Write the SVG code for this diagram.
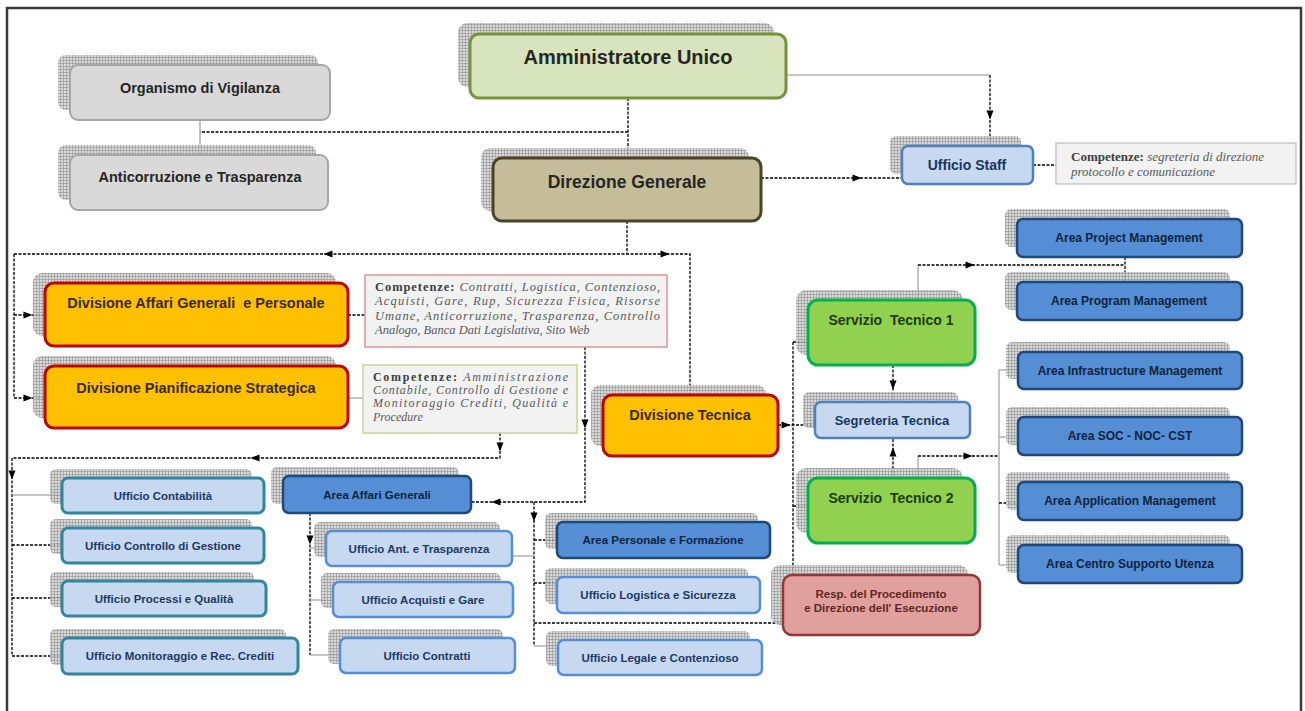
<svg xmlns="http://www.w3.org/2000/svg" width="1305" height="711" viewBox="0 0 1305 711">
<defs>
  <pattern id="grid" width="3" height="3" patternUnits="userSpaceOnUse">
    <rect width="3" height="3" fill="#d4d4d4"/>
    <path d="M0 0.5H3M0.5 0V3" stroke="#8f8f8f" stroke-width="0.8"/>
  </pattern>
  <path id="ar" d="M-4.5,-3.5 L4.5,0 L-4.5,3.5 Z" fill="#000"/>
  <style>
    .sh{fill:url(#grid);opacity:.85}
    .t{font-family:"Liberation Sans",Arial,sans-serif;font-weight:bold;text-anchor:middle}
    .s{font-family:"Liberation Serif","Times New Roman",serif;font-size:12.5px;fill:#595959}
    .s2{font-size:12px}
    .s3{font-size:13px}
    .b{font-weight:bold;font-style:normal;fill:#404040}
    .i{font-style:italic}
    .c{stroke:#000;stroke-width:1.3;stroke-dasharray:3 1.5;fill:none}
    .g{stroke:#8c8c8c;stroke-width:1;fill:none}
    .au{fill:#d7e4bd;stroke:#76923c;stroke-width:3}
    .gr{fill:#d9d9d9;stroke:#a6a6a6;stroke-width:2}
    .dg{fill:#c4bd97;stroke:#494429;stroke-width:3}
    .lb{fill:#c6d9f1;stroke:#4f81bd;stroke-width:2.5}
    .ab{fill:#558ed5;stroke:#1f497d;stroke-width:2.5}
    .st{fill:#92d050;stroke:#00b050;stroke-width:3}
    .dv{fill:#ffc000;stroke:#c00000;stroke-width:3}
    .rp{fill:#e0a09e;stroke:#953735;stroke-width:2.5}
    .tl{fill:#c6d9f1;stroke:#31859c;stroke-width:3}
    .ml{fill:#c6d9f1;stroke:#558ed5;stroke-width:2.5}
    .cp{fill:#f2f2f2;stroke:#bfbfbf;stroke-width:1.2}
    .cr{fill:#f2f2f2;stroke:#d99694;stroke-width:1.5}
    .cg{fill:#f2f2f2;stroke:#c3d69b;stroke-width:1.5}
  </style>
</defs>
<rect x="0" y="0" width="1305" height="711" fill="#fff"/>
<rect x="7" y="8" width="1294" height="720" fill="none" stroke="#3a3a3a" stroke-width="2.5"/>

<g id="connectors">
  <path class="c" d="M628,98V158"/>
  <path class="c" d="M628,132H200"/>
  <path class="g" d="M200,120V155"/>
  <path class="g" d="M786,75H990"/>
  <path class="c" d="M990,75V146"/>
  <path class="c" d="M761,178H902"/>
  <path class="c" d="M1033,165H1056"/>
  <path class="c" d="M627,221V254M14,254H690V395"/>
  <path class="c" d="M14,254V398M14,315H45M14,398H45"/>
  <path class="c" d="M348,315H365"/>
  <path class="g" d="M348,398H363"/>
  <path class="c" d="M585,347V502H471"/>
  <path class="c" d="M500,433V458H12V656"/>
  <path class="g" d="M12,495H62"/>
  <path class="c" d="M12,545H62M12,598H62M12,656H62"/>
  <path class="c" d="M310,513V655"/>
  <path class="g" d="M310,548H326M310,600H333M310,655H340"/>
  <path class="c" d="M534,502V646"/>
  <path class="c" d="M534,540H557M534,583H557M534,623H783"/>
  <path class="g" d="M534,646H558M512,556H534"/>
  <path class="c" d="M778,425H815"/>
  <path class="c" d="M793,342V575M793,342H808M793,506H808"/>
  <path class="c" d="M893,365V402"/>
  <path class="c" d="M893,478V438"/>
  <path class="g" d="M918,478V456"/>
  <path class="c" d="M918,456H999"/>
  <path class="g" d="M999,370V565M999,370H1018M999,437H1018M999,565H1018"/>
  <path class="c" d="M999,503H1018"/>
  <path class="g" d="M918,300V265"/>
  <path class="c" d="M918,265H1125"/>
  <path class="c" d="M1125,257V282"/>
  <use href="#ar" transform="translate(990,115) rotate(90)"/>
  <use href="#ar" transform="translate(857,178)"/>
  <use href="#ar" transform="translate(328,254) rotate(180)"/>
  <use href="#ar" transform="translate(665,254)"/>
  <use href="#ar" transform="translate(28,315)"/>
  <use href="#ar" transform="translate(28,398)"/>
  <use href="#ar" transform="translate(585,424) rotate(90)"/>
  <use href="#ar" transform="translate(496,502) rotate(180)"/>
  <use href="#ar" transform="translate(500,447) rotate(90)"/>
  <use href="#ar" transform="translate(255,458) rotate(180)"/>
  <use href="#ar" transform="translate(12,475) rotate(90)"/>
  <use href="#ar" transform="translate(310,540) rotate(90)"/>
  <use href="#ar" transform="translate(534,517) rotate(90)"/>
  <use href="#ar" transform="translate(786,425)"/>
  <use href="#ar" transform="translate(893,385) rotate(90)"/>
  <use href="#ar" transform="translate(893,452) rotate(-90)"/>
  <use href="#ar" transform="translate(968,456)"/>
  <use href="#ar" transform="translate(970,265)"/>
</g>

<g id="amministratore">
  <rect class="sh" x="458" y="23" width="316" height="64" rx="9"/>
  <rect class="au" x="470" y="34" width="316" height="64" rx="9"/>
  <text class="t" x="628" y="64" font-size="20" fill="#262626">Amministratore Unico</text>
</g>
<g id="organismo">
  <rect class="sh" x="58" y="55" width="260" height="55" rx="8"/>
  <rect class="gr" x="70" y="65" width="260" height="55" rx="8"/>
  <text class="t" x="200" y="93" font-size="14.5" fill="#262626">Organismo di Vigilanza</text>
</g>
<g id="anticorruzione">
  <rect class="sh" x="58" y="145" width="258" height="55" rx="8"/>
  <rect class="gr" x="70" y="155" width="258" height="55" rx="8"/>
  <text class="t" x="200" y="182" font-size="14.5" fill="#262626">Anticorruzione e Trasparenza</text>
</g>
<g id="direzione">
  <rect class="sh" x="481" y="148" width="268" height="63" rx="9"/>
  <rect class="dg" x="493" y="158" width="268" height="63" rx="9"/>
  <text class="t" x="627" y="188" font-size="17.5" fill="#262626">Direzione Generale</text>
</g>
<g id="staff">
  <rect class="sh" x="890" y="136" width="131" height="38" rx="6"/>
  <rect class="lb" x="902" y="146" width="131" height="38" rx="6"/>
  <text class="t" x="967" y="170" font-size="14" fill="#17375e">Ufficio Staff</text>
</g>
<g id="comp-staff">
  <rect class="cp" x="1056" y="143" width="240" height="41"/>
  <text class="s s3" x="1071" y="161"><tspan class="b">Competenze:</tspan><tspan class="i"> segreteria di direzione</tspan></text>
  <text class="s s3" x="1071" y="176"><tspan class="i">protocollo e comunicazione</tspan></text>
</g>

<g id="area-project">
  <rect class="sh" x="1005" y="209" width="225" height="38" rx="6"/>
  <rect class="ab" x="1017" y="219" width="225" height="38" rx="6"/>
  <text class="t" x="1129" y="242" font-size="12" fill="#0f243e">Area Project Management</text>
</g>
<g id="area-program">
  <rect class="sh" x="1005" y="272" width="225" height="38" rx="6"/>
  <rect class="ab" x="1017" y="282" width="225" height="38" rx="6"/>
  <text class="t" x="1129" y="305" font-size="12" fill="#0f243e">Area Program Management</text>
</g>
<g id="area-infra">
  <rect class="sh" x="1006" y="342" width="224" height="37" rx="6"/>
  <rect class="ab" x="1018" y="352" width="224" height="37" rx="6"/>
  <text class="t" x="1130" y="375" font-size="12" fill="#0f243e">Area Infrastructure Management</text>
</g>
<g id="area-soc">
  <rect class="sh" x="1006" y="407" width="224" height="38" rx="6"/>
  <rect class="ab" x="1018" y="417" width="224" height="38" rx="6"/>
  <text class="t" x="1130" y="440" font-size="12" fill="#0f243e">Area SOC - NOC- CST</text>
</g>
<g id="area-application">
  <rect class="sh" x="1006" y="472" width="224" height="38" rx="6"/>
  <rect class="ab" x="1018" y="482" width="224" height="38" rx="6"/>
  <text class="t" x="1130" y="505" font-size="12" fill="#0f243e">Area Application Management</text>
</g>
<g id="area-centro">
  <rect class="sh" x="1006" y="535" width="224" height="38" rx="6"/>
  <rect class="ab" x="1018" y="545" width="224" height="38" rx="6"/>
  <text class="t" x="1130" y="568" font-size="12" fill="#0f243e">Area Centro Supporto Utenza</text>
</g>

<g id="servizio1">
  <rect class="sh" x="796" y="290" width="167" height="65" rx="10"/>
  <rect class="st" x="808" y="300" width="167" height="65" rx="10"/>
  <text class="t" x="891" y="325" font-size="14" fill="#1d3b0b">Servizio&#160; Tecnico 1</text>
</g>
<g id="segreteria">
  <rect class="sh" x="803" y="392" width="155" height="36" rx="6"/>
  <rect class="lb" x="815" y="402" width="155" height="36" rx="6"/>
  <text class="t" x="892" y="425" font-size="13" fill="#17375e">Segreteria Tecnica</text>
</g>
<g id="servizio2">
  <rect class="sh" x="796" y="468" width="167" height="65" rx="10"/>
  <rect class="st" x="808" y="478" width="167" height="65" rx="10"/>
  <text class="t" x="891" y="503" font-size="14" fill="#1d3b0b">Servizio&#160; Tecnico 2</text>
</g>
<g id="resp">
  <rect class="sh" x="771" y="565" width="197" height="60" rx="9"/>
  <rect class="rp" x="783" y="575" width="197" height="60" rx="9"/>
  <text class="t" x="881" y="598" font-size="11.5" fill="#632523">Resp. del Procedimento</text>
  <text class="t" x="881" y="612" font-size="11.5" fill="#632523">e Direzione dell' Esecuzione</text>
</g>
<g id="div-tecnica">
  <rect class="sh" x="591" y="385" width="175" height="61" rx="9"/>
  <rect class="dv" x="603" y="395" width="175" height="61" rx="9"/>
  <text class="t" x="690" y="420" font-size="14.5" fill="#3b2b00">Divisione Tecnica</text>
</g>

<g id="div-affari">
  <rect class="sh" x="33" y="273" width="303" height="63" rx="9"/>
  <rect class="dv" x="45" y="283" width="303" height="63" rx="9"/>
  <text class="t" x="196" y="308" font-size="14.5" fill="#3b2b00">Divisione Affari Generali&#160; e Personale</text>
</g>
<g id="comp-affari">
  <rect class="cr" x="365" y="275" width="302" height="72"/>
  <text class="s" x="375" y="291" textLength="285" lengthAdjust="spacing"><tspan class="b">Competenze:</tspan><tspan class="i"> Contratti, Logistica, Contenzioso,</tspan></text>
  <text class="s i" x="375" y="305" textLength="285" lengthAdjust="spacing">Acquisti, Gare, Rup, Sicurezza Fisica, Risorse</text>
  <text class="s i" x="375" y="320" textLength="285" lengthAdjust="spacing">Umane, Anticorruzione, Trasparenza, Controllo</text>
  <text class="s i" x="375" y="334">Analogo, Banca Dati Legislativa, Sito Web</text>
</g>
<g id="div-pianificazione">
  <rect class="sh" x="33" y="356" width="303" height="62" rx="9"/>
  <rect class="dv" x="45" y="366" width="303" height="62" rx="9"/>
  <text class="t" x="196" y="393" font-size="14.5" fill="#3b2b00">Divisione Pianificazione Strategica</text>
</g>
<g id="comp-pianificazione">
  <rect class="cg" x="363" y="365" width="214" height="68"/>
  <text class="s s2" x="373" y="381" textLength="195" lengthAdjust="spacing"><tspan class="b">Competenze:</tspan><tspan class="i">  Amministrazione</tspan></text>
  <text class="s s2 i" x="373" y="394" textLength="195" lengthAdjust="spacing">Contabile, Controllo di Gestione e</text>
  <text class="s s2 i" x="373" y="407" textLength="195" lengthAdjust="spacing">Monitoraggio Crediti, Qualità e</text>
  <text class="s s2 i" x="373" y="421">Procedure</text>
</g>

<g id="uff-contabilita">
  <rect class="sh" x="50" y="469" width="202" height="35" rx="6"/>
  <rect class="tl" x="62" y="478" width="202" height="35" rx="6"/>
  <text class="t" x="163" y="500" font-size="11.5" fill="#1f3864">Ufficio Contabilità</text>
</g>
<g id="uff-controllo">
  <rect class="sh" x="50" y="519" width="202" height="35" rx="6"/>
  <rect class="tl" x="62" y="528" width="202" height="35" rx="6"/>
  <text class="t" x="163" y="550" font-size="11.5" fill="#1f3864">Ufficio Controllo di Gestione</text>
</g>
<g id="uff-processi">
  <rect class="sh" x="50" y="572" width="204" height="35" rx="6"/>
  <rect class="tl" x="62" y="581" width="204" height="35" rx="6"/>
  <text class="t" x="164" y="603" font-size="11.5" fill="#1f3864">Ufficio Processi e Qualità</text>
</g>
<g id="uff-monitoraggio">
  <rect class="sh" x="50" y="629" width="236" height="36" rx="6"/>
  <rect class="tl" x="62" y="638" width="236" height="36" rx="6"/>
  <text class="t" x="180" y="660" font-size="11.5" fill="#1f3864">Ufficio Monitoraggio e Rec. Crediti</text>
</g>
<g id="area-affari">
  <rect class="sh" x="271" y="467" width="188" height="37" rx="6"/>
  <rect class="ab" x="283" y="476" width="188" height="37" rx="6"/>
  <text class="t" x="377" y="499" font-size="11.5" fill="#0f243e">Area Affari Generali</text>
</g>
<g id="uff-ant">
  <rect class="sh" x="314" y="522" width="186" height="35" rx="6"/>
  <rect class="ml" x="326" y="531" width="186" height="35" rx="6"/>
  <text class="t" x="419" y="553" font-size="11.5" fill="#1f3864">Ufficio Ant. e Trasparenza</text>
</g>
<g id="uff-acquisti">
  <rect class="sh" x="321" y="573" width="180" height="35" rx="6"/>
  <rect class="ml" x="333" y="582" width="180" height="35" rx="6"/>
  <text class="t" x="423" y="604" font-size="11.5" fill="#1f3864">Ufficio Acquisti e Gare</text>
</g>
<g id="uff-contratti">
  <rect class="sh" x="328" y="629" width="175" height="35" rx="6"/>
  <rect class="ml" x="340" y="638" width="175" height="35" rx="6"/>
  <text class="t" x="427" y="660" font-size="11.5" fill="#1f3864">Ufficio Contratti</text>
</g>
<g id="area-personale">
  <rect class="sh" x="545" y="513" width="213" height="36" rx="6"/>
  <rect class="ab" x="557" y="522" width="213" height="36" rx="6"/>
  <text class="t" x="663" y="544" font-size="11.5" fill="#0f243e">Area Personale e Formazione</text>
</g>
<g id="uff-logistica">
  <rect class="sh" x="545" y="568" width="203" height="36" rx="6"/>
  <rect class="ml" x="557" y="577" width="203" height="36" rx="6"/>
  <text class="t" x="658" y="599" font-size="11.5" fill="#1f3864">Ufficio Logistica e Sicurezza</text>
</g>
<g id="uff-legale">
  <rect class="sh" x="546" y="631" width="204" height="35" rx="6"/>
  <rect class="ml" x="558" y="640" width="204" height="35" rx="6"/>
  <text class="t" x="660" y="662" font-size="11.5" fill="#1f3864">Ufficio Legale e Contenzioso</text>
</g>
</svg>
